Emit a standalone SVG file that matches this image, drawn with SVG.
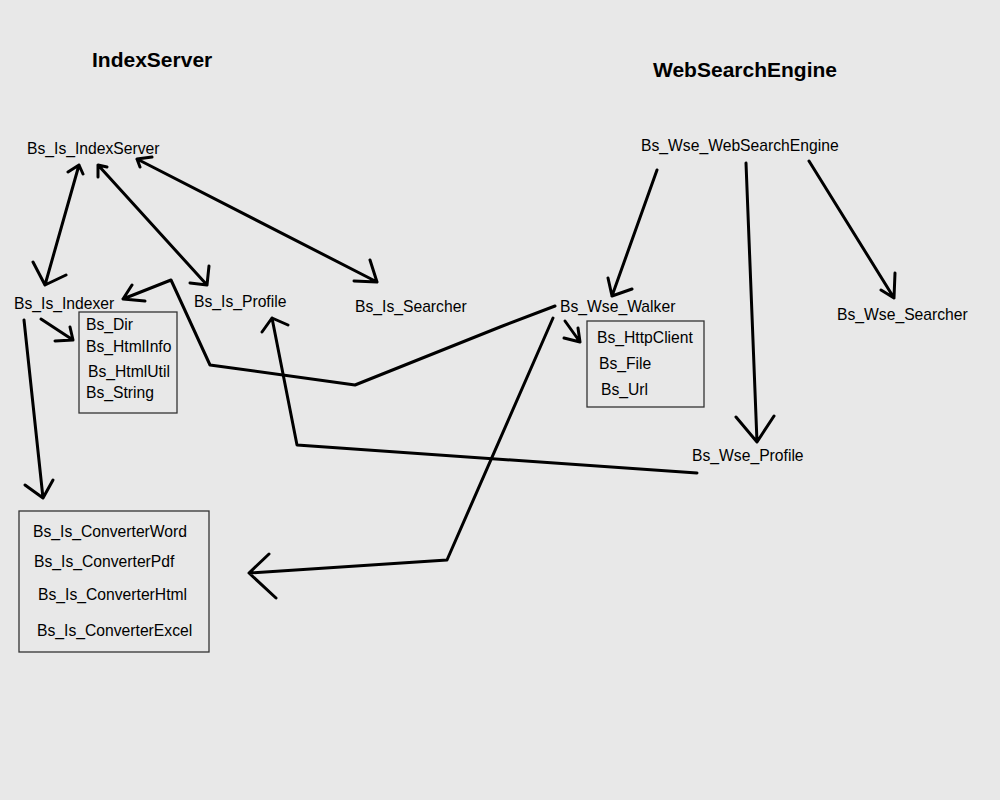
<svg xmlns="http://www.w3.org/2000/svg" width="1000" height="800" viewBox="0 0 1000 800">
<style>
text{font-family:"Liberation Sans",Arial,sans-serif;font-size:15.7px;fill:#000}
.t{font-size:21px;font-weight:bold}
.box{fill:none;stroke:#333;stroke-width:1.3}
.c{fill:none;stroke:#000;stroke-width:3;stroke-linecap:round;stroke-linejoin:round}
</style>
<rect width="1000" height="800" fill="#e8e8e8"/>
<g id="title-indexserver"><text class="t" x="92" y="67">IndexServer</text></g>
<g id="title-wse"><text class="t" x="653" y="77">WebSearchEngine</text></g>
<g id="n-is-indexserver"><text x="27" y="154">Bs_Is_IndexServer</text></g>
<g id="n-is-indexer"><text x="14" y="309">Bs_Is_Indexer</text></g>
<g id="n-is-profile"><text x="194" y="307">Bs_Is_Profile</text></g>
<g id="n-is-searcher"><text x="355" y="312">Bs_Is_Searcher</text></g>
<g id="n-util-box">
<rect class="box" x="79" y="312" width="98" height="101"/>
<text x="86" y="330">Bs_Dir</text>
<text x="86" y="352">Bs_HtmlInfo</text>
<text x="88" y="377">Bs_HtmlUtil</text>
<text x="86" y="398">Bs_String</text>
</g>
<g id="n-converters">
<rect class="box" x="19" y="511" width="190" height="141"/>
<text x="33" y="537">Bs_Is_ConverterWord</text>
<text x="34" y="567">Bs_Is_ConverterPdf</text>
<text x="38" y="600">Bs_Is_ConverterHtml</text>
<text x="37" y="636">Bs_Is_ConverterExcel</text>
</g>
<g id="n-wse"><text x="641" y="151">Bs_Wse_WebSearchEngine</text></g>
<g id="n-wse-walker"><text x="560" y="312">Bs_Wse_Walker</text></g>
<g id="n-net-box">
<rect class="box" x="587" y="321" width="117" height="86"/>
<text x="597" y="343">Bs_HttpClient</text>
<text x="599" y="369">Bs_File</text>
<text x="601" y="395">Bs_Url</text>
</g>
<g id="n-wse-searcher"><text x="837" y="320">Bs_Wse_Searcher</text></g>
<g id="n-wse-profile"><text x="692" y="461">Bs_Wse_Profile</text></g>
<g id="connectors">
<path class="c" d="M79,165 L45,285 M68,172 L79,165 L83,174 M33,262 L45,285 L66,275"/>
<path class="c" d="M98,165 L207,285 M98,177 L98,165 L107,167 M209,266 L207,285 L190,283"/>
<path class="c" d="M137,159 L377,282 M152,157 L137,159 L140,167 M370,260 L377,282 L354,281"/>
<path class="c" d="M555,306 L500,327 L355,385 L210,365 L171,280 L123,299 M132,285 L123,299 L145,301"/>
<path class="c" d="M41,319 L73,340 M55,341 L73,340 L70,327"/>
<path class="c" d="M24,320 L43,498 M25,485 L43,498 L53,480"/>
<path class="c" d="M697,473 L297,445 L272,318 M262,332 L272,318 L288,325"/>
<path class="c" d="M553,318 L447,560 L249,573 M269,554 L249,573 L276,598"/>
<path class="c" d="M657,170 L612,296 M608,278 L612,296 L632,289"/>
<path class="c" d="M746,163 L757,442 M736,417 L757,442 L774,416"/>
<path class="c" d="M809,161 L894,298 M895,273 L894,298 L881,290"/>
<path class="c" d="M565,321 L580,342 M564,338 L580,342 L578,328"/>
</g>
</svg>
